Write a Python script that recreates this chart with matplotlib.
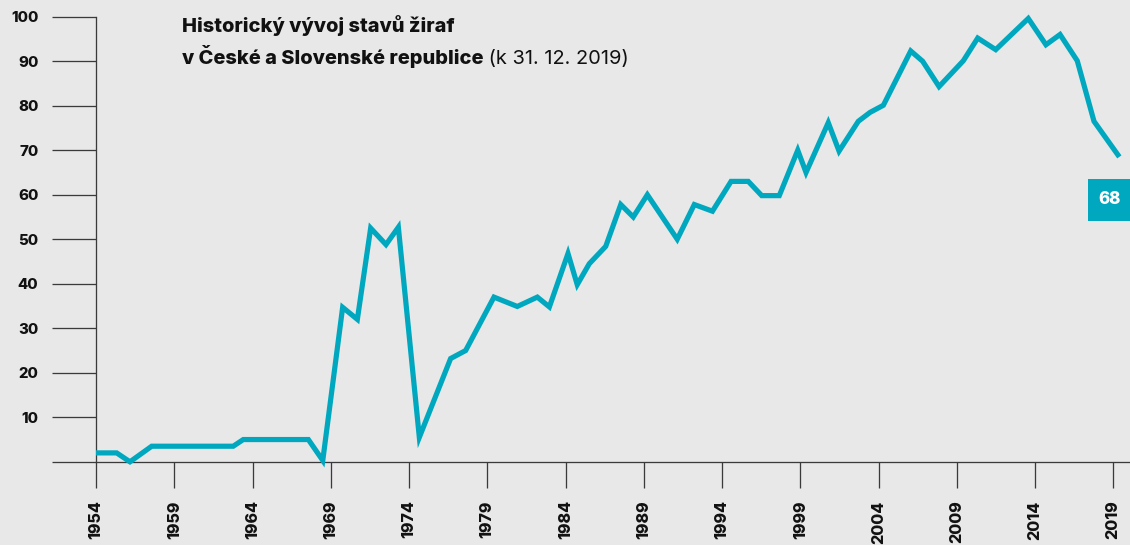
import matplotlib
matplotlib.use("Agg")
import matplotlib.pyplot as plt
from matplotlib.patches import Rectangle

# ---- data ----
years = [1954.00, 1955.32, 1956.17, 1957.56, 1962.77, 1963.41, 1967.57, 1968.49,
         1969.76, 1970.70, 1971.55, 1972.53, 1973.32, 1974.66, 1976.66, 1977.62,
         1979.43, 1980.92, 1982.20, 1982.97, 1984.16, 1984.75, 1985.52, 1986.57,
         1987.53, 1988.33, 1989.23, 1991.14, 1992.23, 1993.39, 1994.58, 1995.68,
         1996.54, 1997.66, 1998.84, 1999.37, 2000.79, 2001.48, 2002.71, 2003.46,
         2004.31, 2006.06, 2006.82, 2007.87, 2009.42, 2010.34, 2011.49, 2013.57,
         2014.70, 2015.60, 2016.70, 2017.77, 2019.39]
counts = [2, 2, 0, 3.5, 3.5, 5, 5, 0.3,
          34.7, 32, 52.5, 48.8, 52.7, 5.5, 23.2, 25,
          37, 34.9, 37, 34.8, 46.8, 39.8, 44.5, 48.4,
          57.8, 55, 60, 50, 57.8, 56.3, 63, 63,
          59.8, 59.8, 70, 65, 76.2, 69.8, 76.5, 78.5,
          80.1, 92.3, 90, 84.3, 90.1, 95.2, 92.6, 99.6,
          93.7, 96, 90.1, 76.5, 68.5]
x_ticks = list(range(1954, 2020, 5))
y_ticks = [0, 10, 20, 30, 40, 50, 60, 70, 80, 90, 100]
y_tick_labels = ["", "10", "20", "30", "40", "50", "60", "70", "80", "90", "100"]
last_label = "68"
title_bold_1 = "Historický vývoj stavů žiraf"
title_bold_2 = "v České a Slovenské republice"
title_regular = " (k 31. 12. 2019)"

# ---- style ----
W, H, DPI = 1130, 545, 72
BG = "#e8e8e8"
TEAL = "#00a8bf"
AX = "#3a3a3a"
FONT = ["Inter", "DejaVu Sans"]
plt.rcParams["font.family"] = FONT
HEAVY = 800

fig = plt.figure(figsize=(W / DPI, H / DPI), dpi=DPI, facecolor=BG)

def fx(px):
    return px / W

def fy(py):
    return 1 - py / H

left_px, right_px, top_px, bottom_px = 96, 1130, 16.7, 461.8
ax = fig.add_axes([fx(left_px), fy(bottom_px), fx(right_px - left_px),
                   (bottom_px - top_px) / H])
ax.set_facecolor(BG)

px_per_year = 15.65
ax.set_xlim(1954, 1954 + (right_px - left_px) / px_per_year)
ax.set_ylim(0, 100)

ax.plot(years, counts, color=TEAL, lw=5.2, solid_joinstyle="miter",
        solid_capstyle="butt", clip_on=False, zorder=3)

for s in ["top", "right"]:
    ax.spines[s].set_visible(False)
for s in ["left", "bottom"]:
    ax.spines[s].set_color(AX)
    ax.spines[s].set_linewidth(1.3)

ax.set_yticks(y_ticks)
ax.set_yticklabels(y_tick_labels, fontsize=15, fontweight=HEAVY, color="#111")
ax.set_xticks(x_ticks)
ax.set_xticklabels([str(y) for y in x_ticks], rotation=90, fontsize=16,
                   fontweight=HEAVY, color="#111")
ax.tick_params(axis="y", length=44, width=1.3, color=AX, pad=13.7)
ax.tick_params(axis="x", length=26, width=1.3, color=AX, pad=12.5)

# ---- title ----
TS = 20
t1 = fig.text(fx(181.7), fy(32.3), title_bold_1, fontsize=TS, fontweight=HEAVY,
              color="#111", va="baseline", ha="left")
t2 = fig.text(fx(181.7), fy(64.0), title_bold_2, fontsize=TS, fontweight=HEAVY,
              color="#111", va="baseline", ha="left")
ax.annotate(title_regular, xy=(1, fy(64.0)), xycoords=(t2, "figure fraction"),
            fontsize=TS, color="#111", va="baseline", ha="left",
            annotation_clip=False)

# ---- last value badge ----
fig.add_artist(Rectangle((fx(1088), fy(221)), fx(1130 - 1088), 42 / H,
                         transform=fig.transFigure, facecolor=TEAL,
                         edgecolor="none", zorder=5))
fig.text(fx(1109.5), fy(200), last_label, fontsize=17, fontweight=HEAVY,
         color="white", ha="center", va="center", zorder=6)

fig.savefig("out.png", dpi=DPI, facecolor=BG)
